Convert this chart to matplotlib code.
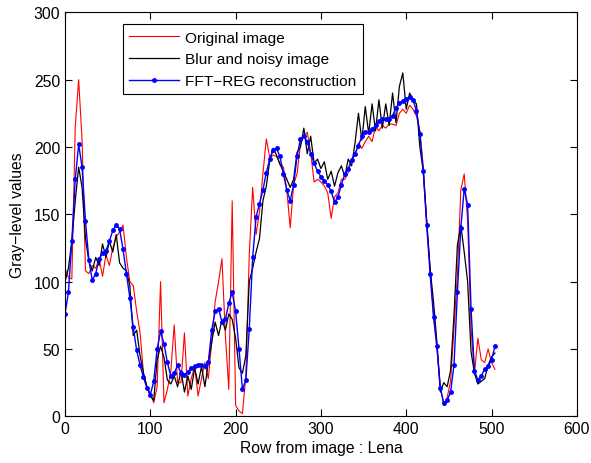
import numpy as np
import matplotlib
matplotlib.use("Agg")
import matplotlib.pyplot as plt

plt.rcParams['font.family'] = ['Liberation Sans', 'DejaVu Sans']

# pixel row index (every 4th sample)
rows = np.arange(0, 505, 4)

original = [110, 103, 102, 215, 250, 205, 108, 106, 112, 110,
            117, 104, 120, 112, 125, 133, 137, 142, 118, 100,
            97, 78, 62, 32, 22, 17, 10, 22, 100, 10,
            20, 33, 68, 25, 25, 62, 15, 28, 37, 15,
            28, 40, 28, 55, 85, 100, 117, 60, 20, 160,
            8, 4, 2, 30, 120, 170, 135, 152, 180, 206,
            192, 194, 193, 188, 185, 168, 140, 172, 180, 202,
            208, 211, 196, 174, 176, 174, 171, 166, 147, 163,
            166, 176, 176, 181, 191, 194, 203, 199, 204, 208,
            204, 215, 212, 216, 214, 217, 217, 216, 225, 228,
            225, 231, 228, 223, 212, 185, 145, 110, 75, 50,
            22, 8, 14, 26, 65, 105, 168, 180, 145, 65,
            32, 58, 42, 40, 50, 40, 35]

blurred = [100, 110, 130, 160, 185, 170, 132, 115, 108, 118,
           112, 128, 118, 130, 122, 135, 114, 110, 108, 97,
           60, 64, 45, 32, 22, 15, 12, 42, 52, 44,
           27, 24, 30, 22, 34, 18, 30, 20, 36, 24,
           37, 22, 40, 55, 70, 60, 72, 64, 76, 72,
           58, 36, 32, 45, 100, 110, 122, 132, 160, 171,
           190, 199, 194, 187, 182, 176, 170, 176, 196, 200,
           214, 195, 208, 188, 191, 184, 189, 176, 182, 171,
           181, 186, 178, 191, 186, 203, 225, 205, 230, 210,
           232, 212, 235, 214, 232, 216, 240, 218, 245, 255,
           228, 240, 235, 232, 200, 182, 145, 110, 85, 55,
           18, 25, 22, 34, 75, 127, 142, 122, 100, 48,
           32, 24, 26, 28, 38, 44, 47]

recon = [76, 92, 130, 176, 202, 185, 145, 116, 101, 106,
         117, 121, 123, 130, 138, 142, 139, 124, 106, 88,
         66, 49, 38, 29, 21, 16, 26, 50, 63, 54,
         40, 30, 32, 38, 32, 31, 33, 36, 37, 38,
         38, 37, 40, 64, 78, 80, 70, 72, 84, 92,
         78, 50, 20, 27, 65, 118, 148, 158, 168, 181,
         191, 198, 199, 193, 180, 168, 160, 172, 193, 206,
         208, 204, 195, 188, 182, 178, 175, 172, 167, 159,
         163, 172, 180, 184, 190, 195, 201, 208, 211, 211,
         213, 216, 219, 221, 221, 221, 223, 229, 233, 234,
         236, 237, 235, 227, 210, 182, 142, 106, 74, 52,
         21, 10, 12, 18, 38, 92, 140, 169, 157, 80,
         34, 27, 30, 35, 37, 42, 52]

fig = plt.figure(figsize=(5.91, 4.64), dpi=100)
ax = fig.add_axes([0.110, 0.1006, 0.866, 0.8707])

ax.plot(rows, original, color='red', lw=0.8, label='Original image')
ax.plot(rows, blurred, color='black', lw=0.9, label='Blur and noisy image')
ax.plot(rows, recon, color='blue', lw=1.0, marker='.', markersize=5,
        label='FFT\u2212REG reconstruction')

ax.set_xlim(0, 600)
ax.set_ylim(0, 300)
ax.set_xticks(range(0, 601, 100))
ax.set_yticks(range(0, 301, 50))
ax.tick_params(direction='in', top=True, right=True, length=5,
               labelsize=11.3, width=0.8)
for s in ax.spines.values():
    s.set_linewidth(0.8)

ax.set_xlabel('Row from image : Lena', fontsize=11.3, labelpad=3)
ax.set_ylabel('Gray\u2212level values', fontsize=11.3, labelpad=6)

leg = ax.legend(loc='upper left', bbox_to_anchor=(0.113, 0.971),
                fontsize=11.1, fancybox=False, framealpha=1,
                edgecolor='black', handlelength=3.2, borderpad=0.42,
                labelspacing=0.5, handletextpad=0.4, borderaxespad=0)
leg.get_frame().set_linewidth(0.8)

fig.savefig('out.png', dpi=100)
